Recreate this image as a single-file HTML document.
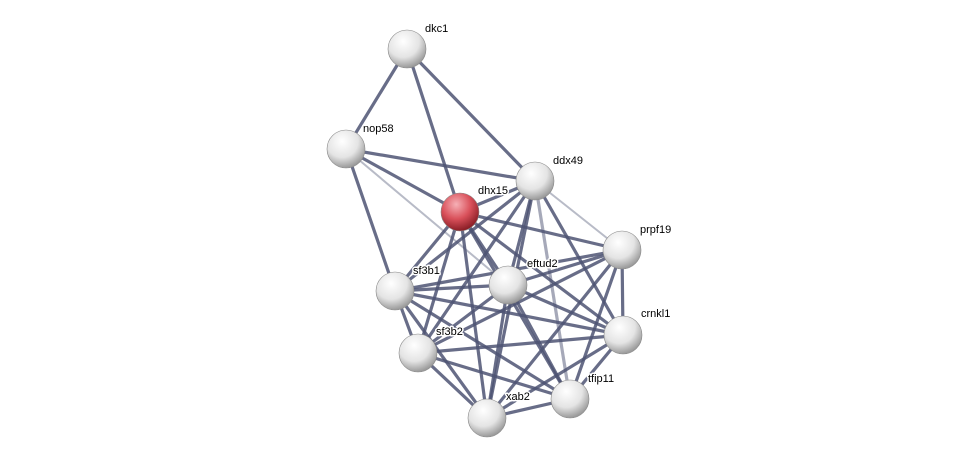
<!DOCTYPE html>
<html><head><meta charset="utf-8"><style>
html,body{margin:0;padding:0;background:#fff;}
svg{display:block}
text{font-family:"Liberation Sans",sans-serif;font-size:11px;fill:#000;stroke:#fff;stroke-width:3px;paint-order:stroke;stroke-linejoin:round}
</style></head><body>
<svg width="976" height="463" viewBox="0 0 976 463" xmlns="http://www.w3.org/2000/svg">
<defs>
<radialGradient id="g" cx="40%" cy="30%" r="70%">
<stop offset="0" stop-color="#ffffff"/><stop offset="0.6" stop-color="#e4e4e4"/><stop offset="1" stop-color="#9a9a9a"/>
</radialGradient>
<radialGradient id="r" cx="40%" cy="30%" r="70%">
<stop offset="0" stop-color="#f6b0b6"/><stop offset="0.55" stop-color="#d9505a"/><stop offset="1" stop-color="#8a1e26"/>
</radialGradient>
</defs>
<g stroke="#4d5473" stroke-width="3.2" stroke-opacity="0.85" stroke-linecap="round">
<line x1="407" y1="49" x2="346" y2="149"/>
<line x1="407" y1="49" x2="460" y2="212"/>
<line x1="407" y1="49" x2="535" y2="181"/>
<line x1="346" y1="149" x2="535" y2="181"/>
<line x1="346" y1="149" x2="460" y2="212"/>
<line x1="346" y1="149" x2="395" y2="291"/>
<line x1="346" y1="149" x2="508" y2="285" stroke-opacity="0.4" stroke-width="2"/>
<line x1="535" y1="181" x2="460" y2="212"/>
<line x1="535" y1="181" x2="622" y2="250" stroke-opacity="0.4" stroke-width="2"/>
<line x1="535" y1="181" x2="395" y2="291"/>
<line x1="535" y1="181" x2="508" y2="285"/>
<line x1="535" y1="181" x2="418" y2="353"/>
<line x1="535" y1="181" x2="623" y2="335"/>
<line x1="535" y1="181" x2="570" y2="399" stroke-opacity="0.5"/>
<line x1="535" y1="181" x2="487" y2="418"/>
<line x1="460" y1="212" x2="622" y2="250"/>
<line x1="460" y1="212" x2="508" y2="285"/>
<line x1="460" y1="212" x2="395" y2="291"/>
<line x1="460" y1="212" x2="418" y2="353"/>
<line x1="460" y1="212" x2="623" y2="335"/>
<line x1="460" y1="212" x2="570" y2="399"/>
<line x1="460" y1="212" x2="487" y2="418"/>
<line x1="622" y1="250" x2="508" y2="285"/>
<line x1="622" y1="250" x2="395" y2="291"/>
<line x1="622" y1="250" x2="418" y2="353"/>
<line x1="622" y1="250" x2="623" y2="335"/>
<line x1="622" y1="250" x2="570" y2="399"/>
<line x1="622" y1="250" x2="487" y2="418"/>
<line x1="508" y1="285" x2="395" y2="291"/>
<line x1="508" y1="285" x2="418" y2="353"/>
<line x1="508" y1="285" x2="623" y2="335"/>
<line x1="508" y1="285" x2="570" y2="399"/>
<line x1="508" y1="285" x2="487" y2="418"/>
<line x1="395" y1="291" x2="418" y2="353"/>
<line x1="395" y1="291" x2="623" y2="335"/>
<line x1="395" y1="291" x2="570" y2="399"/>
<line x1="395" y1="291" x2="487" y2="418"/>
<line x1="418" y1="353" x2="623" y2="335"/>
<line x1="418" y1="353" x2="570" y2="399"/>
<line x1="418" y1="353" x2="487" y2="418"/>
<line x1="623" y1="335" x2="570" y2="399"/>
<line x1="623" y1="335" x2="487" y2="418"/>
<line x1="570" y1="399" x2="487" y2="418"/>
</g>
<g stroke="#888" stroke-width="0.6">
<circle cx="407" cy="49" r="19" fill="url(#g)"/>
<circle cx="346" cy="149" r="19" fill="url(#g)"/>
<circle cx="535" cy="181" r="19" fill="url(#g)"/>
<circle cx="460" cy="212" r="19" fill="url(#r)"/>
<circle cx="622" cy="250" r="19" fill="url(#g)"/>
<circle cx="508" cy="285" r="19" fill="url(#g)"/>
<circle cx="395" cy="291" r="19" fill="url(#g)"/>
<circle cx="623" cy="335" r="19" fill="url(#g)"/>
<circle cx="418" cy="353" r="19" fill="url(#g)"/>
<circle cx="570" cy="399" r="19" fill="url(#g)"/>
<circle cx="487" cy="418" r="19" fill="url(#g)"/>
</g>
<text x="425" y="32">dkc1</text>
<text x="363" y="132">nop58</text>
<text x="553" y="164">ddx49</text>
<text x="478" y="194">dhx15</text>
<text x="640" y="233">prpf19</text>
<text x="527" y="267">eftud2</text>
<text x="413" y="274">sf3b1</text>
<text x="641" y="317">crnkl1</text>
<text x="436" y="335">sf3b2</text>
<text x="588" y="382">tfip11</text>
<text x="506" y="400">xab2</text>
</svg>
</body></html>
